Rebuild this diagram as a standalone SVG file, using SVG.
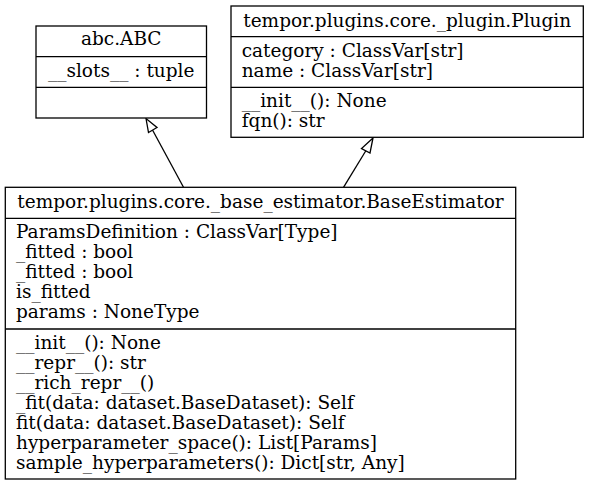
<svg xmlns="http://www.w3.org/2000/svg" width="591" height="485" viewBox="0 0 591 485">
<style>
  .box { fill: #ffffff; stroke: #000000; stroke-width: 1.3; }
  .div { stroke: #000000; stroke-width: 1.3; }
  text { font-family: "DejaVu Serif", serif; font-size: 18.5px; fill: #000000; }
  .c { text-anchor: middle; }
  .edge { stroke: #000000; stroke-width: 1.3; fill: none; }
  .head { fill: #ffffff; stroke: #000000; stroke-width: 1.3; }
</style>
<rect width="591" height="485" fill="#ffffff"/>
<g id="edges">
  <line class="edge" x1="183.5" y1="187.3" x2="152.5" y2="130"/>
  <polygon class="head" points="146,118.5 148.5,132.5 157,127.5"/>
  <line class="edge" x1="343.5" y1="187.3" x2="366" y2="150.5"/>
  <polygon class="head" points="373,138 361.5,148.5 370,153"/>
</g>
<g id="abc_ABC">
  <rect class="box" x="36" y="26" width="170.5" height="92"/>
  <line class="div" x1="36" y1="56.7" x2="206.5" y2="56.7"/>
  <line class="div" x1="36" y1="87.3" x2="206.5" y2="87.3"/>
  <text class="c" x="121.2" y="45">abc.ABC</text>
  <text class="c" x="121.2" y="76.7">__slots__ : tuple</text>
</g>
<g id="Plugin">
  <rect class="box" x="231" y="6" width="352.3" height="131.3"/>
  <line class="div" x1="231" y1="36.7" x2="583.3" y2="36.7"/>
  <line class="div" x1="231" y1="87.3" x2="583.3" y2="87.3"/>
  <text class="c" x="407.2" y="26.7">tempor.plugins.core._plugin.Plugin</text>
  <text x="241.7" y="56.7">category : ClassVar[str]</text>
  <text x="241.7" y="76.7">name : ClassVar[str]</text>
  <text x="241.7" y="106.7">__init__(): None</text>
  <text x="241.7" y="126.7">fqn(): str</text>
</g>
<g id="BaseEstimator">
  <rect class="box" x="5.3" y="187.3" width="510.4" height="291.7"/>
  <line class="div" x1="5.3" y1="218.3" x2="515.7" y2="218.3"/>
  <line class="div" x1="5.3" y1="329" x2="515.7" y2="329"/>
  <text class="c" x="260.5" y="208">tempor.plugins.core._base_estimator.BaseEstimator</text>
  <text x="16" y="238.3">ParamsDefinition : ClassVar[Type]</text>
  <text x="16" y="258.3">_fitted : bool</text>
  <text x="16" y="278.3">_fitted : bool</text>
  <text x="16" y="298.3">is_fitted</text>
  <text x="16" y="318.3">params : NoneType</text>
  <text x="16" y="349">__init__(): None</text>
  <text x="16" y="369">__repr__(): str</text>
  <text x="16" y="389">__rich_repr__()</text>
  <text x="16" y="409">_fit(data: dataset.BaseDataset): Self</text>
  <text x="16" y="429">fit(data: dataset.BaseDataset): Self</text>
  <text x="16" y="449">hyperparameter_space(): List[Params]</text>
  <text x="16" y="469">sample_hyperparameters(): Dict[str, Any]</text>
</g>
</svg>
